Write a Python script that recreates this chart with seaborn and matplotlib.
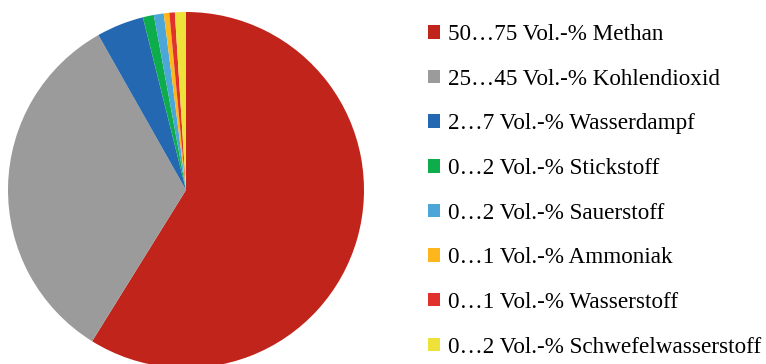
import matplotlib
matplotlib.use("Agg")
import matplotlib.pyplot as plt
import seaborn as sns

labels = [
    "50…75 Vol.-% Methan",
    "25…45 Vol.-% Kohlendioxid",
    "2…7 Vol.-% Wasserdampf",
    "0…2 Vol.-% Stickstoff",
    "0…2 Vol.-% Sauerstoff",
    "0…1 Vol.-% Ammoniak",
    "0…1 Vol.-% Wasserstoff",
    "0…2 Vol.-% Schwefelwasserstoff",
]
values = [58.9, 33.0, 4.3, 1.0, 0.9, 0.5, 0.5, 1.0]
colors = ["#C0241A", "#9B9B9B", "#2468B2", "#0DAD4B", "#4CA6D8", "#FDB71C", "#E0322A", "#EEE13A"]

sns.set_theme(style="white")
plt.rcParams["font.family"] = ["Liberation Serif", "DejaVu Serif"]
plt.rcParams["text.color"] = "black"

fig = plt.figure(figsize=(7.66, 3.64), dpi=100)
W, H = 766, 364
cx, cy, r = 186, 190, 178
ax = fig.add_axes([(cx - r) / W, (H - cy - r) / H, 2 * r / W, 2 * r / H])
palette = sns.color_palette(colors)
wedges, _ = ax.pie(values, colors=palette, startangle=90, counterclock=False,
                   radius=1, wedgeprops=dict(linewidth=0))
ax.set_xlim(-1, 1)
ax.set_ylim(-1, 1)
ax.set_aspect("equal")
ax.axis("off")

fs = 16.7
fig.legend(wedges, labels, loc="upper left", bbox_to_anchor=(428 / W, 1 - 24 / H),
           frameon=False, fontsize=fs, handlelength=0.52, handleheight=0.52,
           handletextpad=0.345, labelspacing=1.02, borderpad=0, borderaxespad=0,
           labelcolor="black")

fig.savefig("out.png", dpi=100)
